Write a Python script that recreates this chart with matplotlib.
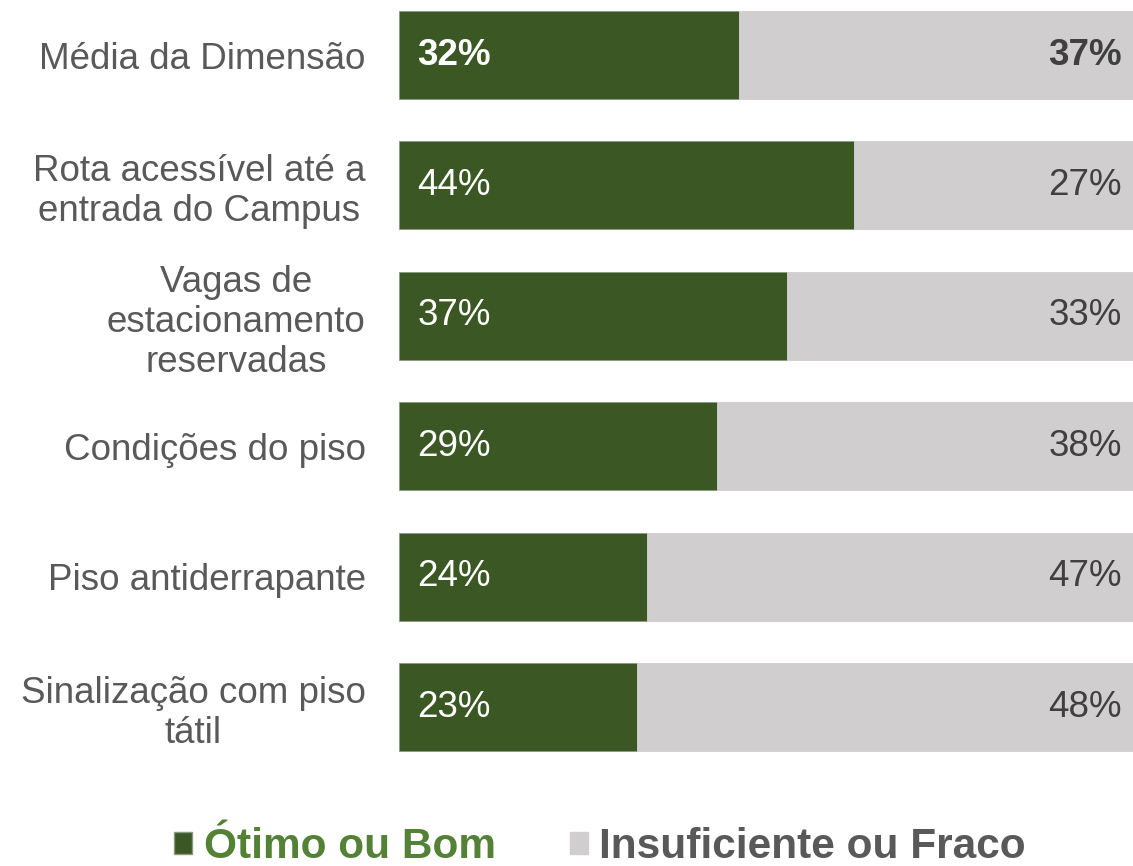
import matplotlib.pyplot as plt
from matplotlib.patches import Patch

plt.rcParams['font.family'] = ['Liberation Sans', 'DejaVu Sans']

GREEN = "#3b5724"
GREY = "#d0cecf"
TEXT = "#595959"
DARK = "#404040"

categories = ["Média da Dimensão",
              "Rota acessível até a\nentrada do Campus",
              "Vagas de\nestacionamento\nreservadas",
              "Condições do piso",
              "Piso antiderrapante",
              "Sinalização com piso\ntátil"]
good = [32, 44, 37, 29, 24, 23]
bad = [37, 27, 33, 38, 47, 48]

fig = plt.figure(figsize=(11.33, 8.66), dpi=100)
ax = fig.add_axes([399 / 1133, 1 - 770 / 866, 734 / 1133, 770 / 866])

ypos = list(range(len(categories)))
good_share = [g / (g + b) for g, b in zip(good, bad)]
bad_share = [b / (g + b) for g, b in zip(good, bad)]

ax.barh(ypos, good_share, height=0.675, color=GREEN, edgecolor="#8a9a80", linewidth=0.6)
ax.barh(ypos, bad_share, left=good_share, height=0.675, color=GREY, edgecolor=GREY, linewidth=0.6)

for i, (g, b) in enumerate(zip(good, bad)):
    weight = "bold" if i == 0 else "normal"
    ax.text(0.025, i, f"{g}%", color="white", fontsize=26.5, va="center", ha="left",
            fontweight=weight)
    ax.text(0.985, i, f"{b}%", color=DARK, fontsize=26.5, va="center", ha="right",
            fontweight=weight)

ax.set_xlim(0, 1)
ax.set_ylim(5.483, -0.4218)
ax.set_yticks(ypos)
ax.set_yticklabels(categories, fontsize=26.5, color=TEXT, linespacing=1.18,
                   ha="right", multialignment="center")
ax.tick_params(axis="y", length=0, pad=24)
ax.set_xticks([])
for s in ax.spines.values():
    s.set_visible(False)

handles = [Patch(facecolor=GREEN, edgecolor="#8a9a80"), Patch(facecolor=GREY, edgecolor=GREY)]
leg = fig.legend(handles, ["Ótimo ou Bom", "Insuficiente ou Fraco"], ncol=2,
                 loc="lower center", bbox_to_anchor=(600 / 1133, -0.045), frameon=False,
                 prop={"size": 30.5, "weight": "bold"}, handlelength=0.42, handleheight=0.42,
                 handletextpad=0.28, columnspacing=1.75)
leg.get_texts()[0].set_color("#538135")
leg.get_texts()[1].set_color(TEXT)

fig.savefig("out.png", dpi=100)
